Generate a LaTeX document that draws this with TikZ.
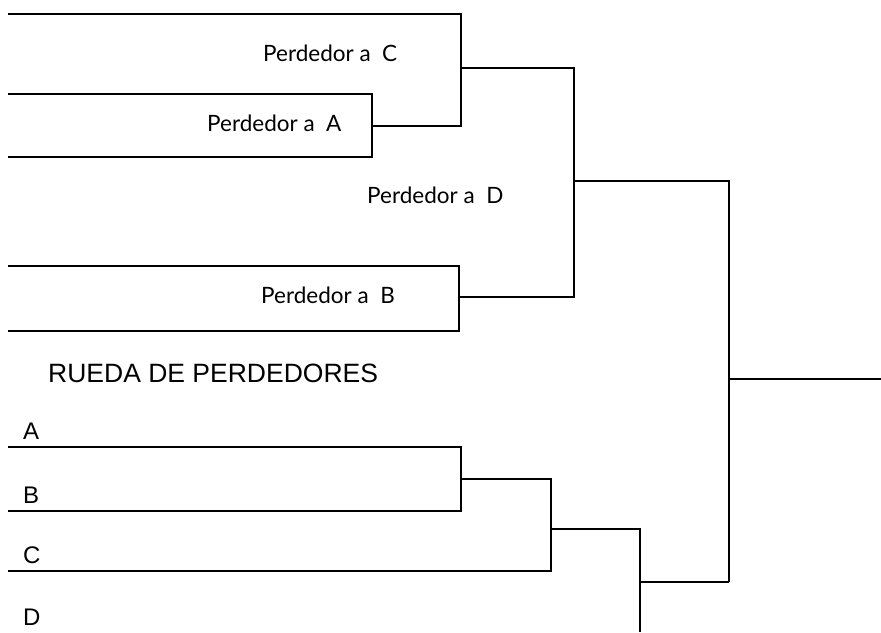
\documentclass[tikz,border=0pt]{standalone}
\usepackage{fontspec}
\setmainfont{Liberation Sans}
\newfontfamily\humfont{Lato}
\tikzset{
  loser/.style={font=\humfont\fontsize{22.5}{22.5}\selectfont, inner sep=0pt, anchor=base west},
  team/.style={font=\fontsize{24}{24}\selectfont, inner sep=0pt, anchor=base west},
  title/.style={font=\fontsize{26.5}{26.5}\selectfont, inner sep=0pt, anchor=base west},
  wire/.style={line width=2.4pt, line cap=butt, line join=miter}
}
\begin{document}
\begin{tikzpicture}[x=1pt, y=-1pt]
  \useasboundingbox (0,0) rectangle (881,632);
  % Loser-bracket labels
  \node[loser] (pc) at (263,61)  {Perdedor a\ \ C};
  \node[loser] (pa) at (207,131) {Perdedor a\ \ A};
  \node[loser] (pd) at (367,203) {Perdedor a\ \ D};
  \node[loser] (pb) at (261,303) {Perdedor a\ \ B};
  \node[title] (rueda) at (48,382) {RUEDA DE PERDEDORES};
  % Team labels A..D
  \foreach \t/\y in {A/439,B/503,C/563,D/625}{
    \node[team] (t\t) at (23,\y) {\t};
  }
  % Line ends and joints
  \coordinate (lc) at (8,14);   \coordinate (la) at (8,94);
  \coordinate (la2) at (8,157); \coordinate (lb) at (8,266);
  \coordinate (lb2) at (8,331);
  \coordinate (ja) at (372,126); \coordinate (jca) at (461,126);
  \coordinate (jcab) at (574,68); \coordinate (jb) at (459,297);
  \coordinate (jtop) at (729,181); \coordinate (jbot) at (640,582);
  \coordinate (win) at (881,379);
  \coordinate (sa) at (8,447);  \coordinate (sb) at (8,511);
  \coordinate (sc) at (8,571);
  \coordinate (jab) at (461,479); \coordinate (jabc) at (551,529);
  \coordinate (send) at (640,632);
  % Upper (losers) bracket
  \draw[wire] (lc) -| (jca) -- (ja);
  \draw[wire] (la) -| (ja) |- (la2);
  \draw[wire] (jca |- jcab) -- (jcab) -- (jcab |- jb) -- (jb);
  \draw[wire] (lb) -| (jb) |- (lb2);
  \draw[wire] (jcab |- jtop) -| (jtop) -- (jtop |- jbot);
  \draw[wire] (jtop |- win) -- (win);
  % Lower bracket
  \draw[wire] (sa) -| (jab) |- (sb);
  \draw[wire] (jab) -| (jabc |- sc) -- (sc);
  \draw[wire] (jabc) -| (send);
  \draw[wire] (jbot) -- (jtop |- jbot);
\end{tikzpicture}
\end{document}
